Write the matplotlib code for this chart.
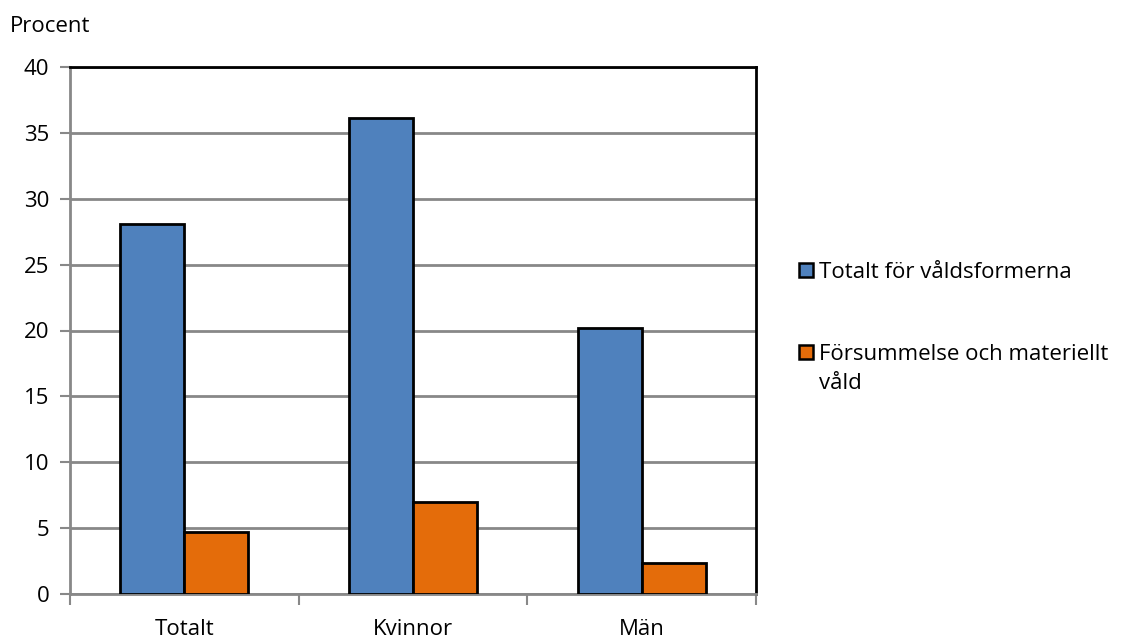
import matplotlib
matplotlib.use("Agg")
import matplotlib.pyplot as plt
import matplotlib.patches as mpatches
import numpy as np

# Data
categories = ["Totalt", "Kvinnor", "Män"]
totalt_vald = [28.1, 36.1, 20.2]
forsummelse = [4.7, 7.0, 2.35]
series_labels = ["Totalt för våldsformerna", "Försummelse och materiellt\nvåld"]
series_colors = ["#4F81BD", "#E46C0A"]

plt.rcParams['font.family'] = ['Open Sans', 'DejaVu Sans']
fs = 16
W, H = 1125, 638

fig = plt.figure(figsize=(11.25, 6.38), dpi=100)
ax = fig.add_axes([70 / W, 1 - 594 / H, 686 / W, 527 / H])

x = np.arange(len(categories))
width = 0.28
ax.bar(x - width / 2, totalt_vald, width, color=series_colors[0], edgecolor="black", linewidth=2, zorder=3)
ax.bar(x + width / 2, forsummelse, width, color=series_colors[1], edgecolor="black", linewidth=2, zorder=3)

ax.set_xlim(-0.5, 2.5)
ax.set_ylim(0, 40)
ax.set_yticks(range(0, 41, 5))
ax.yaxis.grid(True, color="#888888", linewidth=2, zorder=0)

# category labels between boundary ticks
ax.set_xticks(x)
ax.set_xticklabels(categories, fontsize=fs)
ax.tick_params(axis='x', length=0, pad=18)
ax.set_xticks([-0.5, 0.5, 1.5, 2.5], minor=True)
ax.tick_params(axis='x', which='minor', length=8, width=1.5, color="#888888")
ax.tick_params(axis='y', length=7, width=1.5, color="#888888", labelsize=fs, pad=8)

for side in ['left', 'bottom']:
    ax.spines[side].set_color("#888888")
    ax.spines[side].set_linewidth(2)
for side in ['top', 'right']:
    ax.spines[side].set_color("black")
    ax.spines[side].set_linewidth(2)

fig.text(10 / W, 1 - 26 / H, "Procent", fontsize=fs, va='center')

# legend drawn by hand so the swatch sits on the first text line
legend_rows = [270, 352]
for label, color, y in zip(series_labels, series_colors, legend_rows):
    fig.patches.append(mpatches.Rectangle((799 / W, 1 - (y + 7) / H), 14 / W, 14 / H,
                                          transform=fig.transFigure, facecolor=color,
                                          edgecolor="black", linewidth=1.8))
    fig.text(819 / W, 1 - (y - 8) / H, label, fontsize=fs, va='top', linespacing=1.5)

fig.savefig("out.png", dpi=100)
